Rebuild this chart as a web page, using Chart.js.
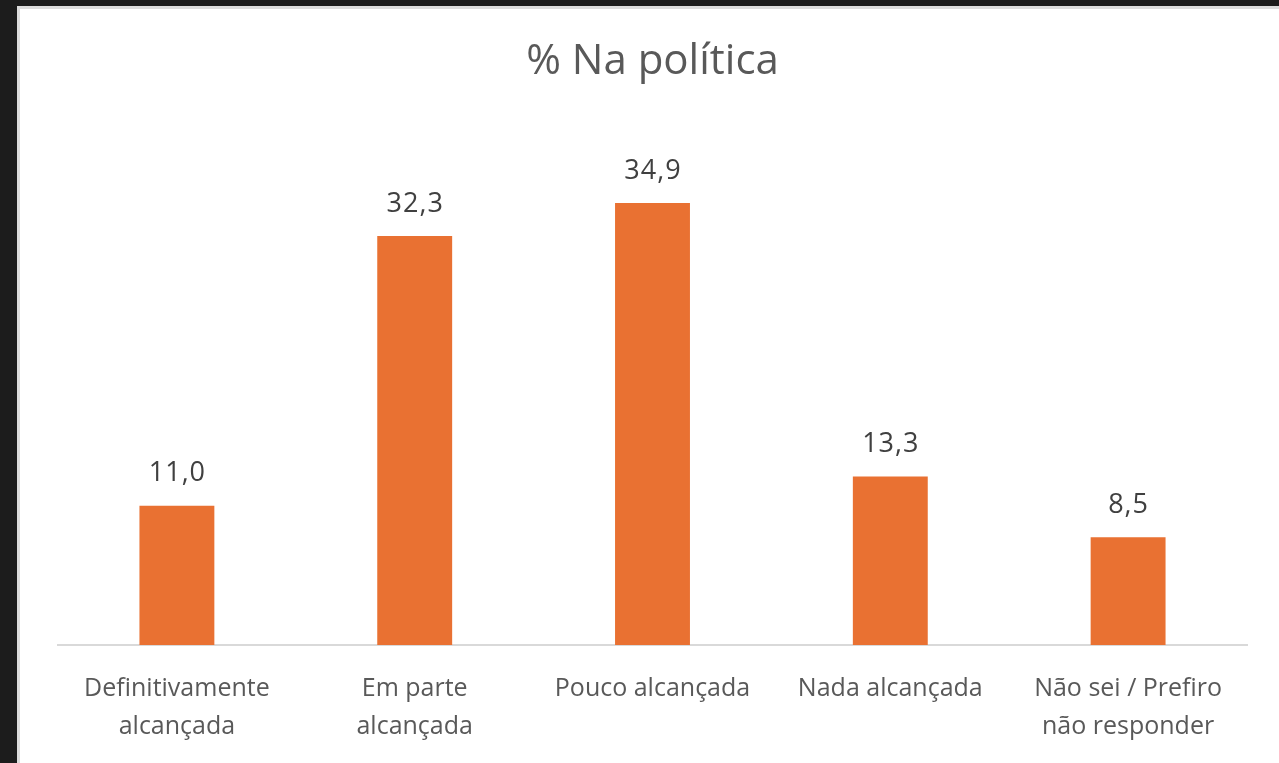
<!DOCTYPE html>
<html>
<head>
    <meta charset="utf-8" />
    <title>% Na política</title>
    <style>
        html, body {
            margin: 0;
            padding: 0;
            background: #1c1c1c;
            overflow: hidden;
        }
        .frame {
            position: absolute;
            left: 17px;
            top: 6px;
            width: 1259px;
            height: 754px;
            border-left: 3px solid #dcdcdc;
            border-top: 3px solid #dcdcdc;
            background: #fff;
            overflow: hidden;
        }
        .frame canvas {
            display: block;
        }
    </style>
    <script src="https://cdn.jsdelivr.net/npm/chart.js"></script>
</head>
<body>
    <div class="frame">
        <canvas id="chart" width="1259" height="780"></canvas>
    </div>

    <script>
        const categories = [
            ['Definitivamente', 'alcançada'],
            ['Em parte', 'alcançada'],
            'Pouco alcançada',
            'Nada alcançada',
            ['Não sei / Prefiro', 'não responder']
        ];
        const values = [11.0, 32.3, 34.9, 13.3, 8.5];

        const fontFamily = '"Open Sans", "Noto Sans", sans-serif';

        // value labels above each bar, decimal comma
        const barLabels = {
            id: 'barLabels',
            afterDatasetsDraw(chart) {
                const ctx = chart.ctx;
                ctx.save();
                ctx.font = '27px ' + fontFamily;
                ctx.letterSpacing = '1px';
                ctx.fillStyle = '#404040';
                ctx.textAlign = 'center';
                ctx.textBaseline = 'middle';
                chart.getDatasetMeta(0).data.forEach((bar, i) => {
                    const txt = values[i].toFixed(1).replace('.', ',');
                    ctx.fillText(txt, bar.x + 0.5, bar.y - 32);
                });
                ctx.restore();
            }
        };

        new Chart(document.getElementById('chart').getContext('2d'), {
            type: 'bar',
            data: {
                labels: categories,
                datasets: [{
                    data: values,
                    backgroundColor: '#E97132',
                    barPercentage: 0.315,
                    categoryPercentage: 1
                }]
            },
            options: {
                responsive: false,
                animation: false,
                layout: { padding: { left: 38, right: 32, top: 0, bottom: 18 } },
                scales: {
                    x: {
                        grid: { display: false, drawTicks: false },
                        border: { display: true, color: '#d9d9d9', width: 2 },
                        ticks: {
                            color: '#595959',
                            padding: 25,
                            maxRotation: 0,
                            autoSkip: false,
                            font: { family: fontFamily, size: 25, lineHeight: 1.52 }
                        }
                    },
                    y: {
                        display: false,
                        min: 0,
                        max: 40
                    }
                },
                plugins: {
                    legend: { display: false },
                    tooltip: { enabled: false },
                    title: {
                        display: true,
                        text: '% Na política',
                        color: '#595959',
                        font: { family: fontFamily, size: 42, weight: 'normal', lineHeight: 1.2 },
                        padding: { top: 28, bottom: 51 }
                    }
                }
            },
            plugins: [barLabels]
        });
    </script>
</body>
</html>
